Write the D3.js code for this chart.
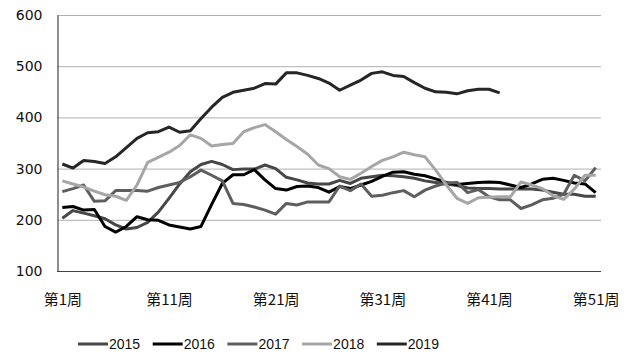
<!DOCTYPE html>
<html lang="zh">
<head>
  <meta charset="UTF-8">
  <title>周度走势</title>
  <script src="https://cdn.jsdelivr.net/npm/d3@7"></script>
  <style>
    body { margin: 0; background: #fff; }
    svg { display: block; }
  </style>
</head>
<body>
  <svg id="chart" width="628" height="363"></svg>
<script>
  // week numbers 1..51 (category axis)
  var weeks = d3.range(1, 52);
  var xTickWeeks = [1, 11, 21, 31, 41, 51];
  var xTickLabels = ["第1周", "第11周", "第21周", "第31周", "第41周", "第51周"];
  var yTicks = [100, 200, 300, 400, 500, 600];

  var years = ["2015", "2016", "2017", "2018", "2019"];

  var v2015 = [203, 218, 213, 208, 202, 190, 182, 185, 195, 215, 242, 270, 294, 308, 314, 308, 298, 299, 299, 307,
               300, 283, 278, 272, 270, 270, 277, 271, 281, 284, 287, 286, 284, 281, 276, 273, 270, 267, 262, 261,
               261, 260, 260, 260, 260, 258, 254, 250, 250, 246, 246];
  var v2016 = [224, 226, 219, 220, 187, 176, 187, 206, 200, 199, 190, 186, 182, 187, 230, 271, 288, 288, 298, 278,
               261, 258, 265, 266, 263, 254, 265, 261, 268, 275, 285, 293, 294, 289, 286, 280, 273, 269, 271, 273,
               274, 273, 268, 263, 270, 279, 281, 277, 272, 270, 253];
  var v2017 = [255, 261, 268, 236, 237, 257, 257, 257, 256, 263, 268, 273, 284, 297, 287, 276, 232, 230, 225, 219,
               211, 232, 229, 235, 235, 235, 266, 257, 270, 246, 248, 253, 257, 245, 258, 266, 272, 273, 253, 259,
               245, 239, 239, 222, 229, 239, 242, 250, 287, 276, 302];
  var v2018 = [276, 270, 264, 256, 249, 246, 238, 268, 312, 322, 332, 345, 366, 359, 344, 347, 349, 372, 380, 386,
               372, 357, 343, 328, 307, 300, 284, 279, 291, 304, 316, 323, 332, 327, 323, 297, 268, 242, 232, 243,
               244, 245, 245, 274, 268, 261, 247, 240, 260, 287, 287];
  var v2019 = [309, 301, 316, 314, 310, 323, 341, 359, 370, 372, 381, 371, 374, 398, 420, 439, 449, 453, 457, 466,
               465, 487, 487, 482, 476, 467, 453, 463, 473, 486, 489, 482, 480, 468, 457, 450, 449, 446, 452, 455,
               455, 448];

  var seriesValues = [v2015, v2016, v2017, v2018, v2019];
  var colors = ["#474747", "#000000", "#5e5e5e", "#a6a6a6", "#262626"];

  var svg = d3.select("#chart");
  var plot = { left: 57, right: 601, top: 15, bottom: 271 };

  var x = d3.scalePoint()
    .domain(weeks)
    .range([plot.left, plot.right])
    .padding(0.5);

  var y = d3.scaleLinear()
    .domain([100, 600])
    .range([plot.bottom, plot.top]);

  // horizontal grid
  svg.append("g")
    .selectAll("line")
    .data(yTicks.slice(1))
    .enter().append("line")
    .attr("x1", plot.left).attr("x2", plot.right)
    .attr("y1", function(d) { return y(d) + 0.5; })
    .attr("y2", function(d) { return y(d) + 0.5; })
    .attr("stroke", "#b0b0b0")
    .attr("stroke-width", 1);

  // y axis labels
  var yAxis = d3.axisLeft(y).tickValues(yTicks).tickSize(0).tickPadding(15);
  var gy = svg.append("g")
    .attr("transform", "translate(" + (plot.left + 0.5) + ",0)")
    .call(yAxis);
  gy.select(".domain").attr("stroke", "#444").attr("stroke-width", 1.2);
  gy.selectAll("text")
    .attr("font-family", "DejaVu Sans, sans-serif")
    .attr("font-size", 14)
    .attr("fill", "#111");

  // x axis labels
  var xAxis = d3.axisBottom(x)
    .tickValues(xTickWeeks)
    .tickSize(0)
    .tickPadding(23)
    .tickFormat(function(d) { return xTickLabels[xTickWeeks.indexOf(d)]; });
  var gx = svg.append("g")
    .attr("transform", "translate(0," + (plot.bottom + 0.5) + ")")
    .call(xAxis);
  gx.select(".domain").attr("stroke", "#444").attr("stroke-width", 1.2)
    .attr("d", "M" + plot.left + ",0H" + plot.right);
  gx.selectAll("text")
    .attr("font-family", "Noto Sans CJK SC, sans-serif")
    .attr("font-size", 15)
    .attr("fill", "#111");

  // series lines
  var line = d3.line()
    .x(function(d, i) { return x(weeks[i]); })
    .y(function(d) { return y(d); });

  svg.append("g")
    .selectAll("path")
    .data(seriesValues)
    .enter().append("path")
    .attr("d", line)
    .attr("fill", "none")
    .attr("stroke", function(d, i) { return colors[i]; })
    .attr("stroke-width", 3)
    .attr("stroke-linejoin", "round");

  // legend
  var legend = svg.append("g")
    .attr("transform", "translate(78,344)");

  var item = legend.selectAll("g")
    .data(years)
    .enter().append("g")
    .attr("transform", function(d, i) { return "translate(" + (i * 74.7) + ",0)"; });

  item.append("line")
    .attr("x1", 0).attr("x2", 30)
    .attr("y1", 0).attr("y2", 0)
    .attr("stroke", function(d, i) { return colors[i]; })
    .attr("stroke-width", 3);

  item.append("text")
    .attr("x", 31)
    .attr("y", 0)
    .attr("dy", "0.36em")
    .attr("font-family", "Liberation Sans, Arial, sans-serif")
    .attr("font-size", 14)
    .attr("fill", "#111")
    .text(function(d) { return d; });
</script>
</body>
</html>
